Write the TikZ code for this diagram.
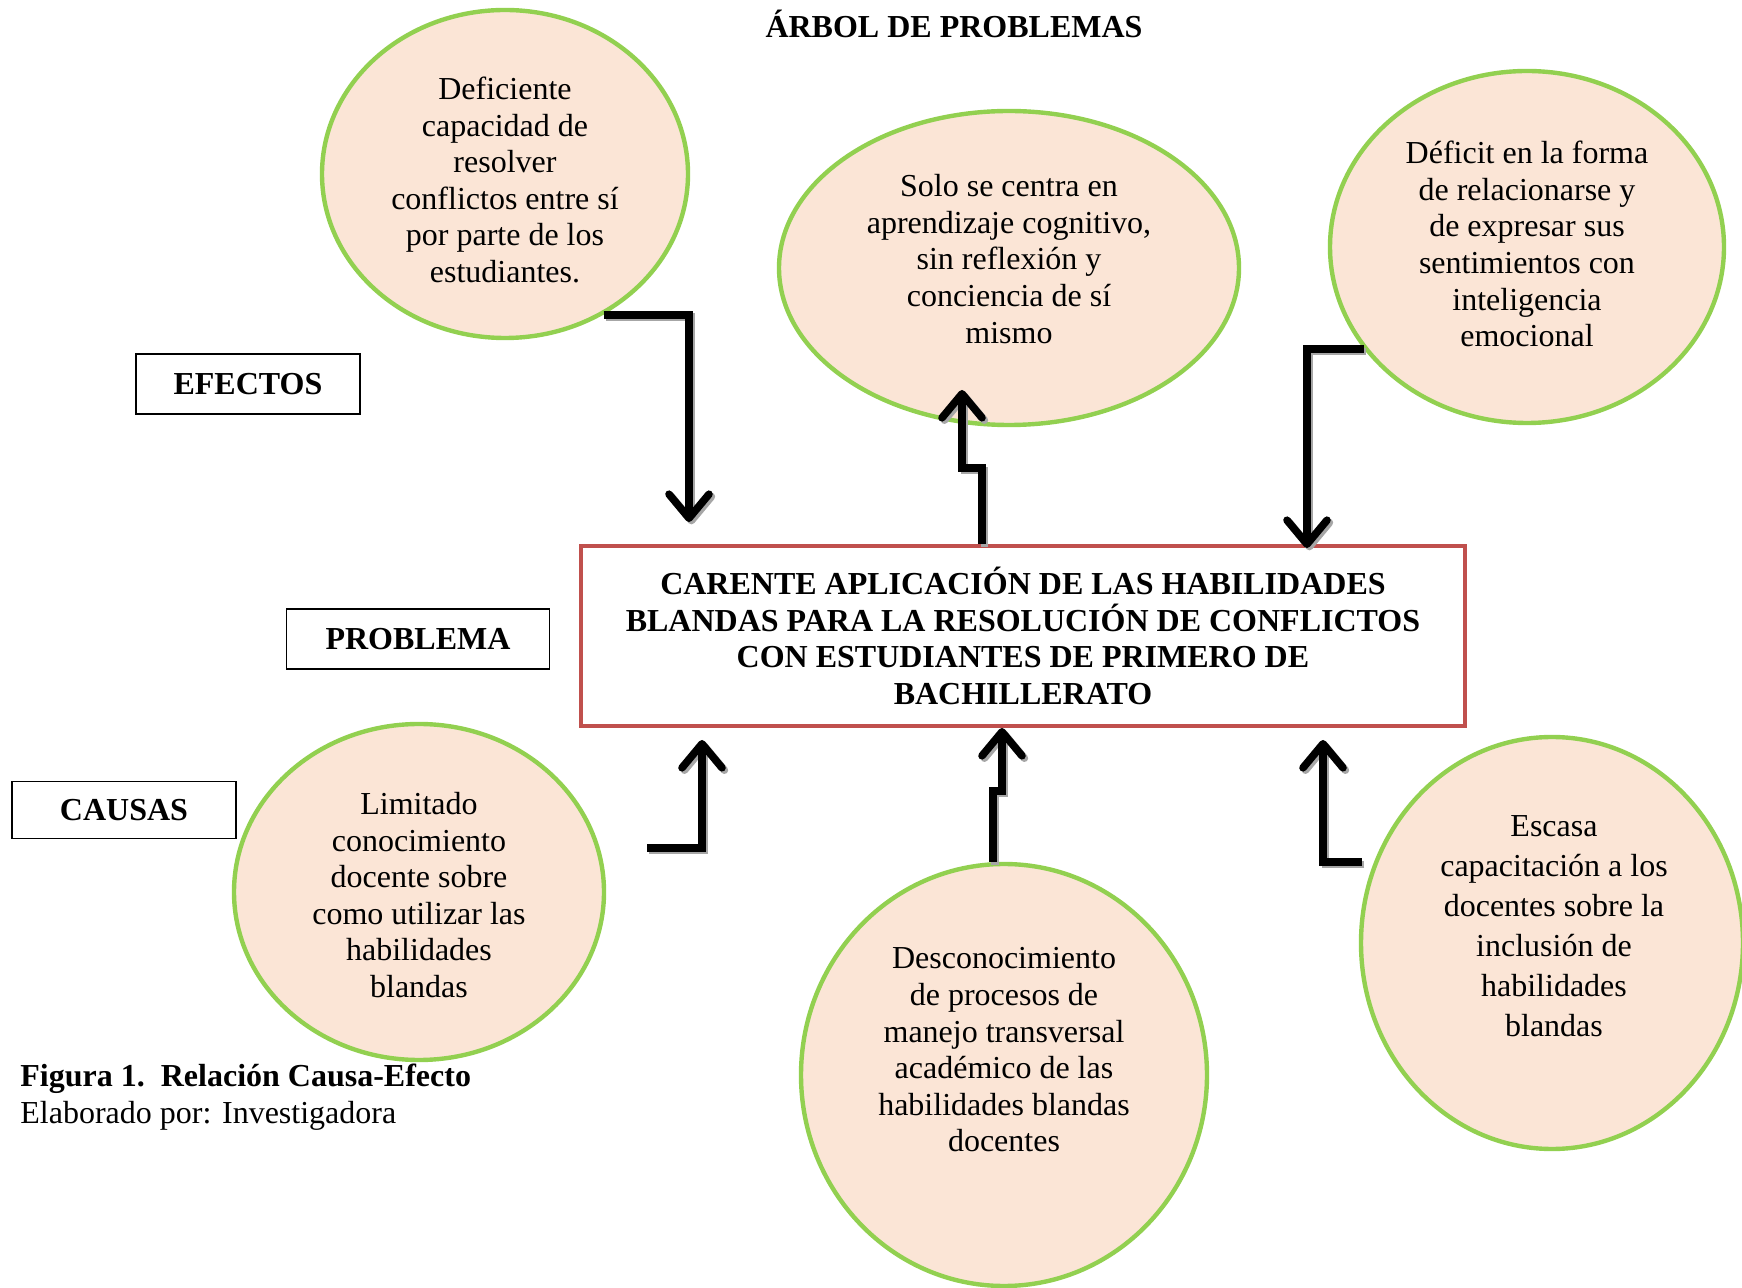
\documentclass[tikz,border=0pt]{standalone}
\usepackage{fontspec}
\setmainfont{Liberation Serif}
\usetikzlibrary{arrows.meta,shapes.geometric}
\definecolor{bubblefill}{HTML}{FBE5D6}
\definecolor{bubbleline}{HTML}{92D050}
\definecolor{probline}{HTML}{C0504D}
\newcommand{\flecha}[1]{%
  \draw [arr, draw=black!35, transform canvas={shift={(1.2pt,-1.2pt)}}] #1;
  \draw [arr] #1;}

\begin{document}
\begin{tikzpicture}[x=0.5pt,y=-0.5pt,
    bubble/.style={ellipse, draw=bubbleline, fill=bubblefill, line width=2.2pt, inner sep=0pt},
    txt/.style={align=center, font=\fontsize{16}{18.3}\selectfont, inner sep=0pt},
    lbl/.style={draw, line width=0.8pt, font=\fontsize{16}{18.3}\selectfont\bfseries, inner sep=0pt},
    arr/.style={line width=3.8pt, -{Straight Barb[length=12pt,width=20pt,round]}}]

        \useasboundingbox (0,0) rectangle (1742,1288);

        % titulo
        \node [font=\fontsize{16}{18.3}\selectfont\bfseries] (title) at (954,24) {ÁRBOL DE PROBLEMAS};

        % etiquetas
        \node [lbl, minimum width=112pt, minimum height=30pt] (efectos) at (248,384) {EFECTOS};
        \node [lbl, minimum width=131.5pt, minimum height=30pt] (problema) at (418,639) {PROBLEMA};
        \node [lbl, minimum width=112pt, minimum height=28.5pt] (causas) at (124,810) {CAUSAS};

        % problema central
        \node [draw=probline, line width=1.8pt, minimum width=442pt, minimum height=90pt,
               align=center, font=\fontsize{16}{18.3}\selectfont\bfseries] (prob) at (1023,636)
              {CARENTE APLICACIÓN DE LAS HABILIDADES\\BLANDAS PARA LA RESOLUCIÓN DE CONFLICTOS\\CON ESTUDIANTES DE PRIMERO DE\\BACHILLERATO};

        % efectos
        \node [bubble, minimum width=183pt, minimum height=164pt] (e1) at (505,174) {};
        \node [txt] (e1t) at (505,180) {Deficiente\\capacidad de\\resolver\\conflictos entre sí\\por parte de los\\estudiantes.};
        \node [bubble, minimum width=230pt, minimum height=157pt] (e2) at (1009,268) {};
        \node [txt] (e2t) at (1009,259) {Solo se centra en\\aprendizaje cognitivo,\\sin reflexión y\\conciencia de sí\\mismo};
        \node [bubble, minimum width=197pt, minimum height=176pt] (e3) at (1527,247) {};
        \node [txt] (e3t) at (1527,244) {Déficit en la forma\\de relacionarse y\\de expresar sus\\sentimientos con\\inteligencia\\emocional};

        % causas
        \node [bubble, minimum width=185pt, minimum height=168pt] (c1) at (419,892) {};
        \node [txt] (c1t) at (419,895) {Limitado\\conocimiento\\docente sobre\\como utilizar las\\habilidades\\blandas};
        \node [bubble, minimum width=203pt, minimum height=211pt] (c2) at (1004,1075) {};
        \node [txt] (c2t) at (1004,1050) {Desconocimiento\\de procesos de\\manejo transversal\\académico de las\\habilidades blandas\\docentes};
        \node [bubble, minimum width=191pt, minimum height=206pt] (c3) at (1552,943) {};
        \node [txt, font=\fontsize{16}{20}\selectfont] (c3t) at (1554,926) {Escasa\\capacitación a los\\docentes sobre la\\inclusión de\\habilidades\\blandas};

        % pie
        \node [anchor=west, align=left, inner sep=0pt, font=\fontsize{16}{18.3}\selectfont] (cap) at (20,1097)
              {\textbf{Figura 1.\ \ Relación Causa-Efecto}\\Elaborado por: Investigadora};

        % flechas
        \coordinate (t1) at (689,522);
        \coordinate (t2) at (962,390);
        \coordinate (t3) at (1307,548);
        \coordinate (s4) at (647,848);
        \coordinate (t4) at (702,740);
        \coordinate (t5) at (1002,728);
        \coordinate (s6) at (1362,862);
        \coordinate (t6) at (1323,740);

        \flecha{(e1.-55) -| (t1)}
        \flecha{([xshift=-20.5pt]prob.north) -- ++(0,-76) -| (t2)}
        \flecha{(e3.212) -| (t3)}
        \flecha{(s4) -| (t4)}
        \flecha{(c2.93) -- ++(0,-71) -| (t5)}
        \flecha{(s6) -| (t6)}

\end{tikzpicture}
\end{document}
